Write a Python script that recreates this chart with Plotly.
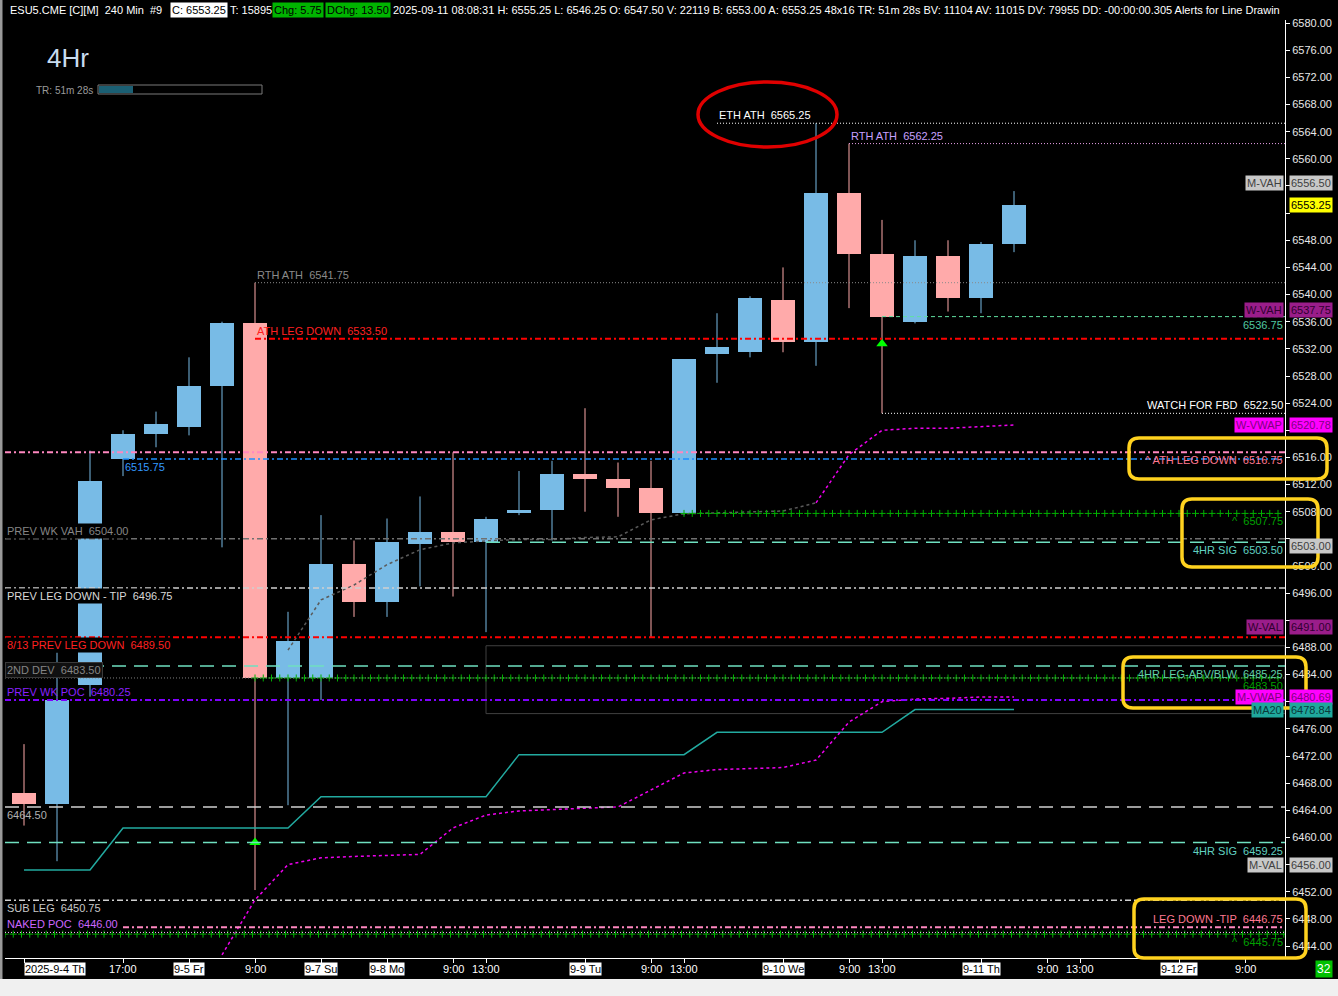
import numpy as np
import plotly.graph_objects as go

# ---------------- data ----------------
bars = list(range(31))
open_ = [6466.50, 6465.00, 6482.50, 6515.75, 6519.50, 6520.50, 6526.50, 6535.75, 6483.50, 6483.50,
         6500.25, 6494.75, 6503.25, 6505.00, 6503.50, 6507.75, 6508.25, 6513.50, 6512.75, 6511.50,
         6507.75, 6531.25, 6531.50, 6539.25, 6533.00, 6555.00, 6546.00, 6536.00, 6545.75, 6539.50, 6547.50]
high = [6473.75, 6487.25, 6517.00, 6520.00, 6522.75, 6530.75, 6536.00, 6541.75, 6493.25, 6507.50,
        6503.75, 6507.00, 6510.25, 6516.75, 6507.25, 6514.00, 6515.50, 6523.25, 6515.25, 6515.50,
        6530.50, 6537.25, 6539.75, 6544.00, 6565.25, 6562.25, 6551.00, 6548.00, 6548.00, 6547.75, 6555.25]
low = [6461.75, 6456.50, 6480.75, 6513.25, 6517.50, 6519.25, 6502.75, 6452.25, 6464.75, 6480.25,
       6492.50, 6492.50, 6497.00, 6495.50, 6490.25, 6507.50, 6503.75, 6508.00, 6507.25, 6489.50,
       6507.50, 6527.00, 6530.75, 6531.50, 6529.50, 6538.00, 6522.50, 6535.75, 6537.50, 6537.25, 6546.25]
close = [6465.00, 6480.25, 6512.50, 6519.50, 6521.00, 6526.50, 6535.75, 6483.50, 6489.00, 6500.25,
         6494.75, 6503.50, 6505.00, 6503.50, 6507.00, 6508.25, 6513.50, 6512.75, 6511.50, 6507.75,
         6530.50, 6532.25, 6539.50, 6533.00, 6555.00, 6546.00, 6536.75, 6545.75, 6539.50, 6547.50, 6553.25]

xtick_bars = [0, 3, 5, 7, 9, 11, 13, 14, 17, 19, 20, 23, 25, 26, 29, 31, 32, 35, 37]
xtick_labels = ["2025-9-4 Th", "17:00", "9-5 Fr", "9:00", "9-7 Su", "9-8 Mo", "9:00", "13:00",
                "9-9 Tu", "9:00", "13:00", "9-10 We", "9:00", "13:00", "9-11 Th", "9:00", "13:00",
                "9-12 Fr", "9:00"]

ytick_vals = [6444, 6448, 6452, 6456, 6460, 6464, 6468, 6472, 6476, 6480, 6484, 6488, 6492, 6496,
              6500, 6504, 6508, 6512, 6516, 6520, 6524, 6528, 6532, 6536, 6540, 6544, 6548, 6552,
              6556, 6560, 6564, 6568, 6572, 6576, 6580]

ma20 = [6455.2, 6455.2, 6455.2, 6461.4, 6461.4, 6461.4, 6461.4, 6461.4, 6461.4, 6466.0,
        6466.0, 6466.0, 6466.0, 6466.0, 6466.0, 6472.2, 6472.2, 6472.2, 6472.2, 6472.2,
        6472.2, 6475.5, 6475.5, 6475.5, 6475.5, 6475.5, 6475.5, 6478.84, 6478.84, 6478.84, 6478.84]

m_vwap_bars = list(range(6, 31))
m_vwap = [6442.7, 6450.8, 6456.0, 6457.0, 6457.2, 6457.3, 6457.5, 6461.4, 6463.3, 6463.9,
          6464.1, 6464.4, 6464.5, 6467.0, 6469.5, 6470.0, 6470.1, 6470.3, 6471.4, 6477.0,
          6480.0, 6480.4, 6480.5, 6480.7, 6480.69]

w_vwap_bars = list(range(8, 31))
w_vwap = [6487.6, 6495.0, 6497.2, 6500.2, 6502.4, 6503.4, 6503.7, 6503.9, 6503.9, 6504.2,
          6504.3, 6506.8, 6507.7, 6507.8, 6508.0, 6508.1, 6509.3, 6516.4, 6520.0, 6520.3,
          6520.3, 6520.5, 6520.78]

signal_bars = [7, 26]
signal_prices = [6459.25, 6532.75]

zone_start_bar = 14
zone_low = 6478.25
zone_high = 6488.25

level_names = ["ETH ATH", "RTH ATH", "RTH ATH", "ATH LEG DOWN", "", "WATCH FOR FBD",
               "^ ATH LEG DOWN", "", "^", "PREV WK VAH", "4HR SIG", "PREV LEG DOWN - TIP",
               "8/13 PREV LEG DOWN", "4HR LEG-ABV/BLW", "2ND DEV", "", "PREV WK POC", "",
               "4HR SIG", "SUB LEG", "LEG DOWN -TIP", "NAKED POC", "^"]
level_prices = [6565.25, 6562.25, 6541.75, 6533.50, 6536.75, 6522.50, 6516.75, 6515.75, 6507.75,
                6504.00, 6503.50, 6496.75, 6489.50, 6485.25, 6483.50, 6483.50, 6480.25, 6464.50,
                6459.25, 6450.75, 6446.75, 6446.00, 6445.75]
level_start = [21, 25, 7, 7, 26, 26, None, 3, 20, None, 14, None, None, 2, None, 7, None, None,
               None, None, 3, None, None]

tag_names = ["M-VAH", "", "W-VAH", "W-VWAP", "", "W-VAL", "M-VWAP", "MA20", "M-VAL"]
tag_values = [6556.50, 6553.25, 6537.75, 6520.78, 6503.00, 6491.00, 6480.69, 6478.84, 6456.00]

header_segments = ["ESU5.CME [C][M]  240 Min  #9", "C: 6553.25", "T: 15895", "Chg: 5.75",
                   "DChg: 13.50",
                   "2025-09-11 08:08:31 H: 6555.25 L: 6546.25 O: 6547.50 V: 22119 B: 6553.00 "
                   "A: 6553.25 48x16 TR: 51m 28s BV: 11104 AV: 11015 DV: 79955 DD: -00:00:00.305 "
                   "Alerts for Line Drawin"]

# ---------------- layout geometry / styles ----------------
FONT = "Liberation Sans, Arial, sans-serif"
W, H = 1338, 996
PX_L, PX_R, PX_T, PX_B = 5, 1285, 20, 958
X_MIN = (PX_L - 24) / 33
X_MAX = (PX_R - 24) / 33
Y_MAX = 6564 + (131.7 - PX_T) / 6.786
Y_MIN = 6564 - (PX_B - 131.7) / 6.786


def fx(px):
    return (px - PX_L) / (PX_R - PX_L)


def fy(py):
    return (PX_B - py) / (PX_B - PX_T)


BLUE = "#78bbe6"
PINK = "#ffaaaa"
DOT = "1px,2px"
DASHDOT = "6px,3px,2px,3px"
LONG = "14px,8px"
SHORT = "4px,3px"
AQUA = "#6fe0c0"
GREEN = "#00b000"

# (line colour, dash, width, kind, label colour, label position, label bg)
level_styles = [
    ("#ffffff", DOT, 1, "line", "#ffffff", "start_above", None),
    ("#e8a0e8", DOT, 1, "line", "#c8a0ff", "start_above", None),
    ("#8a8a8a", DOT, 1, "line", "#8a8a8a", "start_above", None),
    ("#ff0000", DASHDOT, 2, "line", "#ff2020", "start_above", None),
    ("#60e0a0", SHORT, 1, "line", "#50c8a0", "right_below", None),
    ("#ffffff", DOT, 1, "line", "#ffffff", "right_above", None),
    ("#ff88c0", DASHDOT, 2, "line", "#ff7890", "right_below", None),
    ("#1e90ff", DASHDOT, 1.5, "line", "#3399ff", "start_below", None),
    (GREEN, None, 1, "plus", "#00a000", "right_below", None),
    ("#707070", DASHDOT, 1.5, "line", "#858585", "left_above", "#000000"),
    (AQUA, LONG, 1.5, "line", "#60d0c0", "right_below", None),
    ("#d0d0d0", DASHDOT, 1.5, "line", "#d8d8d8", "left_below", "#000000"),
    ("#ff0000", DASHDOT, 2, "line", "#ff2020", "left_below", "#000000"),
    (AQUA, LONG, 1.5, "line", "#60d0a8", "right_below", None),
    ("#808080", DOT, 1, "line", "#858585", "left_above", "#101010"),
    (GREEN, None, 1, "plus", "#00a000", "right_below", None),
    ("#8000ff", DASHDOT, 2, "line", "#8a20ff", "left_above", None),
    ("#d0d0d0", LONG, 1.5, "line", "#b0b0b0", "left_below", None),
    (AQUA, LONG, 1.5, "line", "#60d0c0", "right_below", None),
    ("#d0d0d0", DASHDOT, 1.5, "line", "#c8c8c8", "left_below", None),
    ("#ff88c0", DASHDOT, 2, "line", "#ff7890", "right_above", None),
    ("#ffb0ff", DOT, 1, "line", "#cc66ff", "left_above", None),
    (GREEN, None, 1, "plus", "#00a000", "right_below", None),
]

# (bg, fg) for right-hand tags
tag_styles = [("#c8c8c8", "#404040"), ("#ffff00", "#000000"), ("#9a1d8a", "#300030"),
              ("#ff00ff", "#800080"), ("#c8c8c8", "#404040"), ("#9a1d8a", "#300030"),
              ("#ff00ff", "#800080"), ("#1fa89c", "#0a3a3a"), ("#c8c8c8", "#404040")]

fig = go.Figure()
shapes = []
annotations = []

# --- zone rectangle
shapes.append(dict(type="rect", xref="x", yref="y", x0=zone_start_bar, x1=X_MAX,
                   y0=zone_low, y1=zone_high, line=dict(color="#404040", width=1),
                   fillcolor="rgba(0,0,0,0)", layer="below"))

# --- candles: wicks
for col, cond in ((BLUE, lambda o, c: c >= o), (PINK, lambda o, c: c < o)):
    xs, ys = [], []
    for i, o, h, l, c in zip(bars, open_, high, low, close):
        if cond(o, c):
            xs += [i, i, None]
            ys += [l, h, None]
    fig.add_trace(go.Scatter(x=xs, y=ys, mode="lines", line=dict(color=col, width=1),
                             hoverinfo="skip", showlegend=False))

# --- candles: bodies
body_base = [min(o, c) for o, c in zip(open_, close)]
body_len = [max(abs(c - o), 0.2) for o, c in zip(open_, close)]
body_col = [BLUE if c >= o else PINK for o, c in zip(open_, close)]
fig.add_trace(go.Bar(x=bars, y=body_len, base=body_base, width=0.75,
                     marker=dict(color=body_col, line=dict(width=0)),
                     hoverinfo="skip", showlegend=False))

# --- MA20 and VWAPs
fig.add_trace(go.Scatter(x=bars, y=ma20, mode="lines", line=dict(color="#22aaa0", width=1.5),
                         hoverinfo="skip", showlegend=False))
fig.add_trace(go.Scatter(x=m_vwap_bars, y=m_vwap, mode="lines",
                         line=dict(color="#ee00ee", width=1.5, dash="dot"),
                         hoverinfo="skip", showlegend=False))
SPLIT = 17
fig.add_trace(go.Scatter(x=w_vwap_bars[:SPLIT], y=w_vwap[:SPLIT], mode="lines",
                         line=dict(color="#5a5a5a", width=1.5, dash="dot"),
                         hoverinfo="skip", showlegend=False))
fig.add_trace(go.Scatter(x=w_vwap_bars[SPLIT - 1:], y=w_vwap[SPLIT - 1:], mode="lines",
                         line=dict(color="#ee00ee", width=1.5, dash="dot"),
                         hoverinfo="skip", showlegend=False))

# --- levels
NB = "\u00a0"
for name, price, start, st in zip(level_names, level_prices, level_start, level_styles):
    lcol, dash, lw, kind, tcol, pos, bg = st
    x0 = X_MIN if start is None else start
    if kind == "line":
        shapes.append(dict(type="line", xref="x", yref="y", x0=x0, x1=X_MAX, y0=price, y1=price,
                           line=dict(color=lcol, width=lw, dash=dash)))
    else:
        px_ = np.arange(x0, X_MAX, 0.25)
        fig.add_trace(go.Scatter(x=px_, y=[price] * len(px_), mode="markers",
                                 marker=dict(symbol="cross-thin", size=5,
                                             line=dict(color=lcol, width=1)),
                                 hoverinfo="skip", showlegend=False))
    text = (name + NB + NB + f"{price:.2f}") if name else f"{price:.2f}"
    where, vert = pos.split("_")
    ann = dict(text=text, y=price, yref="y", showarrow=False,
               font=dict(family=FONT, size=11, color=tcol),
               yanchor="bottom" if vert == "above" else "top", borderpad=1)
    if where == "start":
        ann.update(xref="x", x=start, xanchor="left")
    elif where == "left":
        ann.update(xref="paper", x=0, xanchor="left")
    else:
        ann.update(xref="paper", x=1, xanchor="right")
    if bg:
        ann.update(bgcolor=bg)
    if name == "2ND DEV":
        ann.update(bordercolor="#3a3a3a", borderwidth=1)
    annotations.append(ann)

# --- signal triangles
fig.add_trace(go.Scatter(x=signal_bars, y=signal_prices, mode="markers",
                         marker=dict(symbol="triangle-up", size=10, color="#00ff00"),
                         hoverinfo="skip", showlegend=False))

# --- right tags
for name, val, (bg, fg) in zip(tag_names, tag_values, tag_styles):
    annotations.append(dict(text=f"{val:.2f}", xref="paper", x=fx(1289), xanchor="left",
                            yref="y", y=val, yanchor="middle", showarrow=False, bgcolor=bg,
                            font=dict(family=FONT, size=11, color=fg), borderpad=1))
    if name:
        annotations.append(dict(text=name, xref="paper", x=1, xanchor="right", xshift=-1,
                                yref="y", y=val, yanchor="middle", showarrow=False, bgcolor=bg,
                                font=dict(family=FONT, size=11, color=fg), borderpad=1))

# y tick labels hidden where a right-hand tag covers them
ytick_text = ["" if min(abs(v - t) for t in tag_values) < 1.5 else f"{v:.2f}"
              for v in ytick_vals]

# --- x labels
for i, (b, lab) in enumerate(zip(xtick_bars, xtick_labels)):
    is_date = "-" in lab
    annotations.append(dict(text=lab, xref="x", x=b, yref="paper", y=fy(969),
                            xanchor="left" if i == 0 else "center", yanchor="middle",
                            showarrow=False, bgcolor="#ffffff" if is_date else None,
                            font=dict(family=FONT, size=11,
                                      color="#000000" if is_date else "#ffffff"),
                            borderpad=0))

# --- header
header_x = [8, 170, 228, 272, 325, 391]
header_bg = [None, "#ffffff", None, "#00b400", "#00b400", None]
header_fg = ["#ffffff", "#000000", "#ffffff", "#000000", "#000000", "#ffffff"]
for txt, x, bg, fg in zip(header_segments, header_x, header_bg, header_fg):
    annotations.append(dict(text=txt.replace("  ", NB + NB), xref="paper", x=fx(x),
                            xanchor="left", yref="paper", y=fy(10), yanchor="middle",
                            showarrow=False, bgcolor=bg, borderpad=1,
                            font=dict(family=FONT, size=11, color=fg)))

# --- 4Hr title and timer
annotations.append(dict(text="4Hr", xref="paper", x=fx(45), xanchor="left", yref="paper",
                        y=fy(58), yanchor="middle", showarrow=False,
                        font=dict(family=FONT, size=26, color="#c8dcf0")))
annotations.append(dict(text="TR: 51m 28s", xref="paper", x=fx(34), xanchor="left",
                        yref="paper", y=fy(90), yanchor="middle", showarrow=False,
                        font=dict(family=FONT, size=10, color="#9a9a9a")))
shapes.append(dict(type="rect", xref="paper", yref="paper", x0=fx(98), x1=fx(262),
                   y0=fy(94), y1=fy(85), line=dict(color="#7a7a7a", width=1),
                   fillcolor="#000000"))
shapes.append(dict(type="rect", xref="paper", yref="paper", x0=fx(99), x1=fx(133),
                   y0=fy(93), y1=fy(86), line=dict(width=0), fillcolor="#1b5f73"))

# --- "32" badge
annotations.append(dict(text="32", xref="paper", x=fx(1324), xanchor="center", yref="paper",
                        y=fy(969), yanchor="middle", showarrow=False, bgcolor="#00c000",
                        borderpad=1, font=dict(family=FONT, size=12, color="#ffffff")))

# --- window chrome
shapes.append(dict(type="rect", xref="paper", yref="paper", x0=fx(0), x1=fx(1338),
                   y0=fy(996), y1=fy(979), line=dict(width=0), fillcolor="#f0f0f0"))
shapes.append(dict(type="rect", xref="paper", yref="paper", x0=fx(0), x1=fx(2.5),
                   y0=fy(979), y1=fy(0), line=dict(width=0), fillcolor="#9a9a9a"))

# --- annotations: red ellipse, yellow rounded boxes
shapes.append(dict(type="circle", xref="paper", yref="paper", x0=fx(698), x1=fx(837),
                   y0=fy(147), y1=fy(82), line=dict(color="#e00000", width=3.5)))


def rounded(x0, y0, x1, y1, r):
    pts = [("M", [(x0 + r, y0)]), ("L", [(x1 - r, y0)]), ("Q", [(x1, y0), (x1, y0 + r)]),
           ("L", [(x1, y1 - r)]), ("Q", [(x1, y1), (x1 - r, y1)]), ("L", [(x0 + r, y1)]),
           ("Q", [(x0, y1), (x0, y1 - r)]), ("L", [(x0, y0 + r)]),
           ("Q", [(x0, y0), (x0 + r, y0)])]
    s = ""
    for cmd, ps in pts:
        s += cmd + " " + " ".join(f"{fx(a):.5f},{fy(b):.5f}" for a, b in ps) + " "
    return s + "Z"


for box in [(1129, 438, 1327, 479), (1182, 499, 1318, 567), (1123, 657, 1306, 708),
            (1134, 899, 1306, 958)]:
    shapes.append(dict(type="path", xref="paper", yref="paper", path=rounded(*box, 10),
                       line=dict(color="#ffd21f", width=3.5)))

fig.update_layout(
    width=W, height=H, margin=dict(l=PX_L, r=W - PX_R, t=PX_T, b=H - PX_B),
    paper_bgcolor="#000000", plot_bgcolor="#000000", showlegend=False,
    bargap=0, hovermode=False,
    xaxis=dict(range=[X_MIN, X_MAX], showgrid=False, zeroline=False, showline=True,
               linecolor="#ffffff", linewidth=1, ticks="outside", ticklen=4,
               tickcolor="#ffffff", tickvals=xtick_bars, ticktext=[""] * len(xtick_bars),
               fixedrange=True),
    yaxis=dict(range=[Y_MIN, Y_MAX], side="right", showgrid=False, zeroline=False,
               showline=True, linecolor="#ffffff", linewidth=1, ticks="outside", ticklen=4,
               tickcolor="#ffffff", tickvals=ytick_vals, ticktext=ytick_text,
               tickfont=dict(family=FONT, size=11, color="#e8e8e8"), fixedrange=True),
    shapes=shapes, annotations=annotations,
)

fig.write_html("out.html", config={"displayModeBar": False},
               post_script="document.body.style.margin='0';"
                           "document.body.style.overflow='hidden';"
                           "document.body.style.background='#000';")
